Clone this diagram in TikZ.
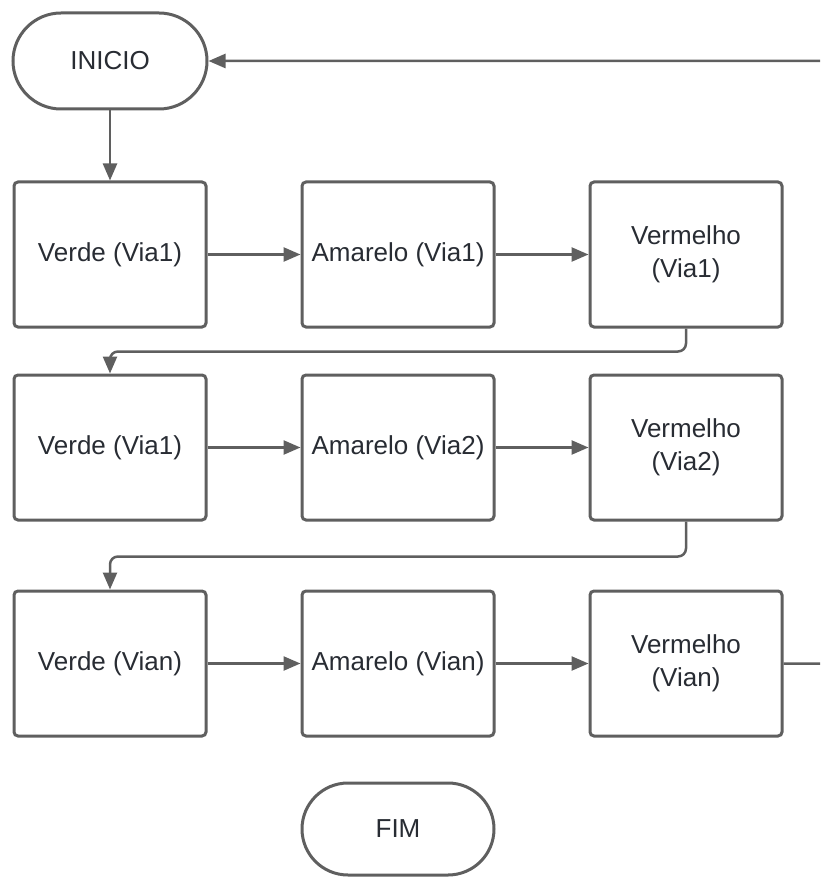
\documentclass[tikz,border=0pt]{standalone}
\usepackage{fontspec}
\setmainfont{Liberation Sans}
\usetikzlibrary{arrows.meta,shapes.misc}
\definecolor{edgegray}{HTML}{5F5F5F}
\definecolor{inkdark}{HTML}{282C33}
\tikzset{
  x=1pt, y=-1pt,
  stepbox/.style={draw=edgegray, line width=3pt, rounded corners=4pt, fill=white,
    minimum width=192pt, minimum height=145pt, inner sep=0pt,
    align=center, text=inkdark, font=\fontsize{26}{33}\selectfont},
  terminal/.style={draw=edgegray, line width=3pt, rounded rectangle, fill=white,
    minimum width=194pt, minimum height=96pt, inner sep=0pt,
    text=inkdark, font=\fontsize{26}{33}\selectfont},
  conn/.style={draw=edgegray, line width=2.5pt, rounded corners=8pt,
    -{Triangle[length=17pt,width=14pt]}},
}
\begin{document}
\begin{tikzpicture}
\useasboundingbox (0,0) rectangle (820,877);
\clip (0,0) rectangle (820,877);

% start / end terminals
\node[terminal] (inicio) at (110,61) {INICIO};
\node[terminal, minimum width=192pt, minimum height=92pt] (fim) at (398,829) {FIM};

% first sequence
\node[stepbox] (r1c1) at (110,254.5) {Verde (Via1)};
\node[stepbox] (r1c2) at (398,254.5) {Amarelo (Via1)};
\node[stepbox] (r1c3) at (686,254.5) {Vermelho\\(Via1)};

% second sequence
\node[stepbox] (r2c1) at (110,447.5) {Verde (Via1)};
\node[stepbox] (r2c2) at (398,447.5) {Amarelo (Via2)};
\node[stepbox] (r2c3) at (686,447.5) {Vermelho\\(Via2)};

% n-th sequence
\node[stepbox] (r3c1) at (110,663.5) {Verde (Vian)};
\node[stepbox] (r3c2) at (398,663.5) {Amarelo (Vian)};
\node[stepbox] (r3c3) at (686,663.5) {Vermelho\\(Vian)};

% connectors
\draw[conn] (inicio.south) -- (r1c1.north);
\draw[conn] (r1c1.east) -- (r1c2.west);
\draw[conn] (r1c2.east) -- (r1c3.west);
\draw[conn] (r1c3.south) -- ++(0,23) -| (r2c1.north);
\draw[conn] (r2c1.east) -- (r2c2.west);
\draw[conn] (r2c2.east) -- (r2c3.west);
\draw[conn] (r2c3.south) -- ++(0,35) -| (r3c1.north);
\draw[conn] (r3c1.east) -- (r3c2.west);
\draw[conn] (r3c2.east) -- (r3c3.west);

% loop back to the start
\coordinate (loopR) at (850,663.5);
\coordinate (loopT) at (850,61);
\draw[conn] (r3c3.east) -- (loopR) -- (loopT) -- (inicio.east);
\end{tikzpicture}
\end{document}
